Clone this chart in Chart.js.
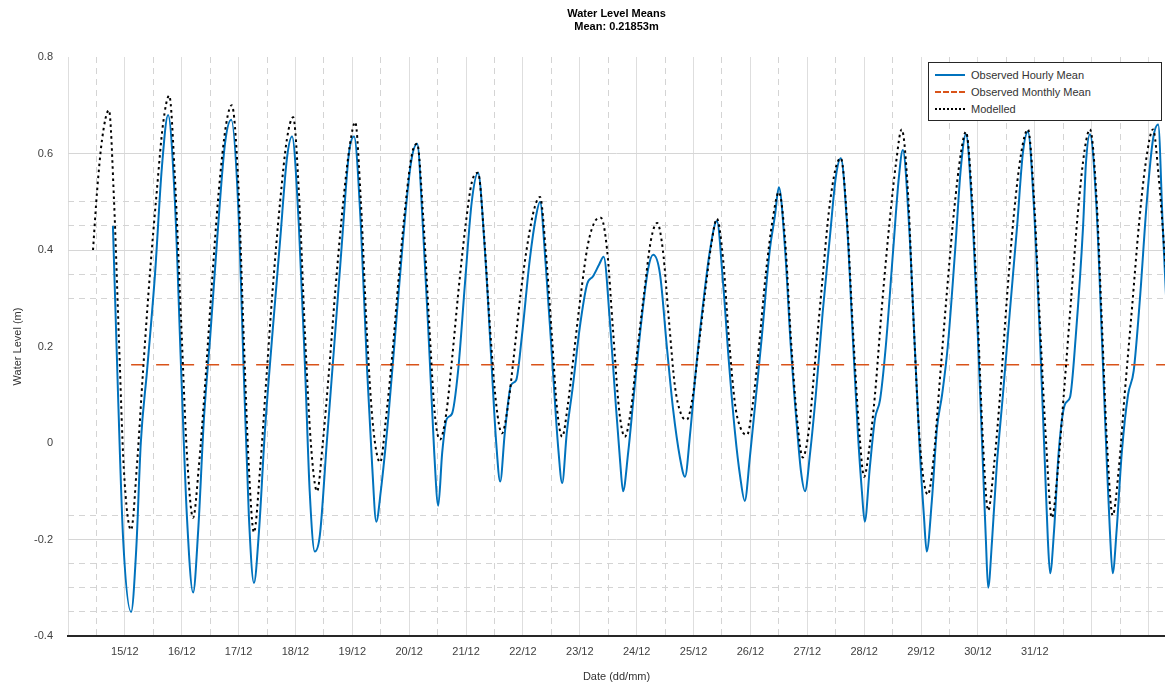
<!DOCTYPE html>
<html>
<head>
<meta charset="utf-8">
<script src="https://cdn.jsdelivr.net/npm/chart.js@4.4.1/dist/chart.umd.min.js"></script>
<style>
  html, body { margin: 0; padding: 0; background: #fff; }
  #wrap { position: relative; width: 1165px; height: 688px; }
  #legend { position: absolute; left: 928px; top: 62px; width: 232px; padding: 3px 0; background: #fff;
            border: 1px solid #262626; font: 11px "Liberation Sans", Arial, sans-serif; color: #333; }
  .row { display: flex; align-items: center; height: 17px; }
  .swatch { width: 30px; height: 0; margin: 0 6px 0 6px; }
</style>
</head>
<body>
<div id="wrap">
  <canvas id="chart" width="1165" height="688"></canvas>
  <div id="legend">
    <div class="row"><span class="swatch" style="border-top: 2px solid #0072BD"></span>Observed Hourly Mean</div>
    <div class="row"><span class="swatch" style="border-top: 2px dashed #D95319"></span>Observed Monthly Mean</div>
    <div class="row"><span class="swatch" style="border-top: 2px dotted #000"></span>Modelled</div>
  </div>
</div>
<script>
// temps en jours (14.0 = 14/12 00:00), niveaux en m
const obsTime = [14.79, 14.88, 14.97, 15.11, 15.20, 15.28, 15.39, 15.53, 15.65, 15.76,
  15.88, 15.99, 16.09, 16.20, 16.29, 16.39, 16.50, 16.64, 16.76, 16.87,
  16.99, 17.09, 17.18, 17.27, 17.36, 17.46, 17.59, 17.73, 17.85, 17.94,
  18.06, 18.17, 18.25, 18.34, 18.43, 18.55, 18.68, 18.82, 18.94, 19.03,
  19.15, 19.26, 19.35, 19.42, 19.50, 19.63, 19.75, 19.89, 20.03, 20.14,
  20.24, 20.35, 20.44, 20.51, 20.58, 20.66, 20.75, 20.86, 20.98, 21.10, 21.21,
  21.33, 21.44, 21.53, 21.60, 21.68, 21.79, 21.88, 21.98, 22.12, 22.23, 22.30,
  22.40, 22.51, 22.62, 22.69, 22.77, 22.88, 23.00, 23.13, 23.23, 23.34, 23.42,
  23.53, 23.62, 23.71, 23.76, 23.85, 23.95, 24.08, 24.20, 24.29,
  24.41, 24.53, 24.64, 24.76, 24.85, 24.94, 25.04, 25.16, 25.29, 25.41,
  25.52, 25.62, 25.73, 25.82, 25.90, 25.99, 26.10, 26.20, 26.34, 26.43, 26.50,
  26.61, 26.71, 26.82, 26.89, 26.96, 27.05, 27.15, 27.27, 27.40, 27.50, 27.59,
  27.70, 27.80, 27.89, 27.96, 28.01, 28.10, 28.19, 28.28, 28.38, 28.51, 28.61, 28.68,
  28.79, 28.89, 28.98, 29.05, 29.10, 29.19, 29.28, 29.37, 29.47, 29.60, 29.70, 29.79,
  29.89, 30.00, 30.09, 30.14, 30.18, 30.25, 30.33, 30.44, 30.56, 30.69, 30.79, 30.88,
  30.98, 31.09, 31.18, 31.23, 31.27, 31.34, 31.42, 31.53, 31.62, 31.72, 31.85, 31.90, 31.97,
  32.08, 32.18, 32.27, 32.32, 32.37, 32.44, 32.53, 32.64, 32.74, 32.85, 32.97, 33.08, 33.17,
  33.25, 33.31];
const obsLevel = [0.45, 0.10, -0.20, -0.35, -0.22, 0.00, 0.15, 0.35, 0.57, 0.68,
  0.50, 0.15, -0.15, -0.31, -0.18, 0.05, 0.22, 0.45, 0.62, 0.67,
  0.50, 0.15, -0.15, -0.29, -0.18, 0.02, 0.22, 0.42, 0.59, 0.635,
  0.45, 0.15, -0.10, -0.225, -0.19, 0.00, 0.20, 0.42, 0.60, 0.635,
  0.45, 0.15, -0.05, -0.163, -0.10, 0.05, 0.22, 0.42, 0.58, 0.62,
  0.45, 0.20, -0.02, -0.13, -0.02, 0.05, 0.06, 0.15, 0.33, 0.50, 0.56,
  0.40, 0.18, 0.00, -0.08, 0.02, 0.12, 0.13, 0.22, 0.38, 0.47, 0.50,
  0.37, 0.18, -0.01, -0.083, 0.02, 0.12, 0.24, 0.33, 0.345, 0.37, 0.386,
  0.25, 0.10, -0.04, -0.10, -0.02, 0.10, 0.25, 0.36, 0.39,
  0.35, 0.20, 0.07, -0.03, -0.07, 0.02, 0.15, 0.28, 0.40, 0.46,
  0.33, 0.17, 0.02, -0.07, -0.12, -0.03, 0.10, 0.22, 0.40, 0.47, 0.53,
  0.40, 0.20, 0.03, -0.06, -0.10, -0.02, 0.10, 0.27, 0.43, 0.55, 0.59,
  0.45, 0.22, 0.02, -0.10, -0.163, -0.05, 0.05, 0.09, 0.20, 0.40, 0.55, 0.607,
  0.45, 0.20, -0.02, -0.15, -0.225, -0.12, 0.03, 0.10, 0.20, 0.40, 0.57, 0.64,
  0.50, 0.22, -0.05, -0.20, -0.30, -0.20, -0.05, 0.10, 0.27, 0.45, 0.60, 0.645,
  0.50, 0.22, -0.05, -0.20, -0.27, -0.18, -0.02, 0.08, 0.095, 0.22, 0.45, 0.58, 0.64,
  0.50, 0.22, -0.05, -0.18, -0.27, -0.18, -0.02, 0.10, 0.15, 0.30, 0.50, 0.63, 0.66,
  0.45, 0.30];

const modelTime = [14.44, 14.51, 14.60, 14.72, 14.81, 14.90, 14.98, 15.11, 15.21, 15.32, 15.44, 15.56, 15.67, 15.78,
  15.88, 15.99, 16.09, 16.20, 16.30, 16.41, 16.53, 16.65, 16.78, 16.88,
  16.99, 17.09, 17.18, 17.27, 17.38, 17.48, 17.60, 17.73, 17.85, 17.96,
  18.06, 18.17, 18.27, 18.38, 18.48, 18.59, 18.71, 18.84, 18.96, 19.05,
  19.15, 19.26, 19.36, 19.49, 19.59, 19.70, 19.82, 19.94, 20.05, 20.14,
  20.24, 20.35, 20.45, 20.54, 20.65, 20.75, 20.87, 21.00, 21.10, 21.21,
  21.31, 21.42, 21.53, 21.63, 21.74, 21.84, 21.96, 22.09, 22.21, 22.30,
  22.40, 22.51, 22.60, 22.69, 22.79, 22.90, 23.02, 23.14, 23.27, 23.37,
  23.48, 23.58, 23.69, 23.79, 23.90, 24.00, 24.13, 24.25, 24.36,
  24.46, 24.57, 24.67, 24.78, 24.88, 24.99, 25.09, 25.20, 25.31, 25.41,
  25.52, 25.62, 25.73, 25.83, 25.94, 26.04, 26.15, 26.27, 26.40, 26.50,
  26.61, 26.71, 26.82, 26.92, 27.03, 27.13, 27.26, 27.38, 27.50, 27.59,
  27.70, 27.80, 27.91, 28.00, 28.08, 28.19, 28.31, 28.44, 28.56, 28.66,
  28.77, 28.87, 28.98, 29.12, 29.23, 29.33, 29.46, 29.58, 29.70, 29.79,
  29.89, 30.00, 30.09, 30.18, 30.28, 30.39, 30.51, 30.63, 30.76, 30.88,
  30.98, 31.09, 31.20, 31.30, 31.41, 31.51, 31.64, 31.76, 31.88, 31.97,
  32.08, 32.18, 32.27, 32.37, 32.48, 32.58, 32.71, 32.83, 32.95, 33.08,
  33.18, 33.31];
const modelLevel = [0.40, 0.52, 0.63, 0.69, 0.50, 0.20, -0.05, -0.18, -0.05, 0.15, 0.35, 0.52, 0.66, 0.72,
  0.55, 0.25, -0.02, -0.155, -0.05, 0.12, 0.33, 0.52, 0.66, 0.70,
  0.55, 0.22, -0.05, -0.185, -0.05, 0.12, 0.32, 0.50, 0.63, 0.675,
  0.52, 0.22, 0.00, -0.10, 0.00, 0.15, 0.33, 0.50, 0.62, 0.665,
  0.50, 0.22, 0.04, -0.04, 0.05, 0.18, 0.35, 0.50, 0.60, 0.62,
  0.48, 0.25, 0.06, 0.007, 0.06, 0.17, 0.32, 0.46, 0.54, 0.56,
  0.44, 0.24, 0.08, 0.02, 0.08, 0.18, 0.31, 0.42, 0.49, 0.51,
  0.40, 0.22, 0.07, 0.013, 0.08, 0.19, 0.31, 0.41, 0.46, 0.467,
  0.40, 0.24, 0.07, 0.013, 0.07, 0.18, 0.31, 0.42, 0.456,
  0.40, 0.25, 0.12, 0.06, 0.048, 0.10, 0.20, 0.31, 0.41, 0.465,
  0.38, 0.22, 0.08, 0.03, 0.017, 0.08, 0.20, 0.35, 0.47, 0.52,
  0.42, 0.22, 0.05, -0.03, 0.03, 0.16, 0.33, 0.48, 0.57, 0.59,
  0.46, 0.24, 0.03, -0.07, -0.02, 0.10, 0.28, 0.45, 0.58, 0.65,
  0.52, 0.25, 0.00, -0.107, -0.02, 0.13, 0.32, 0.48, 0.60, 0.645,
  0.52, 0.25, 0.00, -0.14, -0.05, 0.10, 0.30, 0.47, 0.60, 0.65,
  0.52, 0.25, 0.00, -0.155, -0.05, 0.10, 0.30, 0.48, 0.61, 0.65,
  0.52, 0.25, 0.00, -0.15, -0.05, 0.10, 0.28, 0.45, 0.58, 0.65,
  0.55, 0.35];

const meanTime = [15.11, 33.31];
const meanLevel = [0.162, 0.162];

const dayTicks = [15, 16, 17, 18, 19, 20, 21, 22, 23, 24, 25, 26, 27, 28, 29, 30, 31];
const dayLabels = ['15/12', '16/12', '17/12', '18/12', '19/12', '20/12', '21/12', '22/12', '23/12',
  '24/12', '25/12', '26/12', '27/12', '28/12', '29/12', '30/12', '31/12'];
const yLabelTicks = [-0.4, -0.2, 0, 0.2, 0.4, 0.6, 0.8];
const ySolidGrid = [-0.2, 0.4, 0.6];
const yDashedGrid = [-0.35, -0.3, -0.25, -0.15, 0.3, 0.35, 0.45, 0.5];

const toPoints = (xs, ys) => xs.map((x, i) => ({ x: x, y: ys[i] }));
const has = (arr, v) => arr.some(t => Math.abs(t - v) < 1e-6);

// grille verticale toutes les demi-journées
const xGrid = [];
for (let d = 14; d <= 33; d += 0.5) xGrid.push(d);
const yGrid = [...new Set([...yLabelTicks, ...ySolidGrid, ...yDashedGrid])].sort((a, b) => a - b);

Chart.defaults.font.family = '"Liberation Sans", Arial, sans-serif';
Chart.defaults.font.size = 11;
Chart.defaults.color = '#404040';

new Chart(document.getElementById('chart'), {
  type: 'line',
  data: {
    datasets: [{
      label: 'Modelled',
      data: toPoints(modelTime, modelLevel),
      borderColor: '#000000',
      borderWidth: 2,
      borderDash: [2.5, 3.5],
      pointRadius: 0,
      cubicInterpolationMode: 'monotone',
      order: 0
    }, {
      label: 'Observed Monthly Mean',
      data: toPoints(meanTime, meanLevel),
      borderColor: '#D95319',
      borderWidth: 1.5,
      borderDash: [13, 12],
      pointRadius: 0,
      order: 1
    }, {
      label: 'Observed Hourly Mean',
      data: toPoints(obsTime, obsLevel),
      borderColor: '#0072BD',
      borderWidth: 2,
      pointRadius: 0,
      cubicInterpolationMode: 'monotone',
      order: 2
    }]
  },
  options: {
    responsive: false,
    animation: false,
    devicePixelRatio: 1,
    layout: { padding: 0 },
    plugins: {
      legend: { display: false },
      tooltip: { enabled: false },
      title: {
        display: true,
        fullSize: false,
        text: ['Water Level Means', 'Mean: 0.21853m'],
        color: '#000',
        font: { size: 11, weight: 'bold' },
        padding: { top: 7, bottom: 23.6 }
      }
    },
    scales: {
      x: {
        type: 'linear',
        min: 14,
        max: 33.29,
        afterBuildTicks: s => { s.ticks = xGrid.map(v => ({ value: v })); },
        afterFit: s => { s.height = 52; },
        ticks: {
          autoSkip: false,
          maxRotation: 0,
          padding: 9,
          callback: v => { const i = dayTicks.indexOf(v); return i >= 0 ? dayLabels[i] : ''; }
        },
        grid: {
          drawTicks: false,
          color: ctx => (ctx.tick && ctx.tick.value % 1 === 0) ? '#dedede' : '#d4d4d4',
          lineWidth: 1
        },
        border: {
          display: true, color: '#262626', width: 2,
          dash: ctx => (ctx.tick && ctx.tick.value % 1 !== 0) ? [6, 5] : []
        },
        title: { display: true, text: 'Date (dd/mm)', color: '#333', padding: { top: 0, bottom: 4 } }
      },
      y: {
        min: -0.4,
        max: 0.8,
        afterBuildTicks: s => { s.ticks = yGrid.map(v => ({ value: v })); },
        afterFit: s => { s.width = 68; },
        ticks: {
          padding: 15,
          callback: v => has(yLabelTicks, v) ? (Math.abs(v) < 1e-9 ? '0' : v.toFixed(1)) : ''
        },
        grid: {
          drawTicks: false,
          color: ctx => {
            const v = ctx.tick ? ctx.tick.value : NaN;
            if (has(ySolidGrid, v)) return '#d6d6d6';
            if (has(yDashedGrid, v)) return '#d4d4d4';
            return 'rgba(0,0,0,0)';
          }
        },
        border: {
          display: false,
          dash: ctx => (ctx.tick && has(yDashedGrid, ctx.tick.value)) ? [6, 5] : []
        },
        title: { display: true, text: 'Water Level (m)', color: '#333', padding: { top: 11, bottom: 0 } }
      }
    }
  }
});
</script>
</body>
</html>
